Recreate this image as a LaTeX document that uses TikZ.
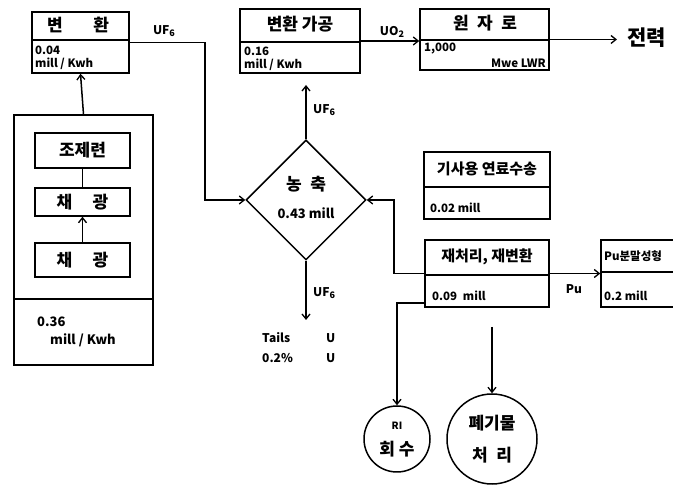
\documentclass[tikz,border=0pt]{standalone}
\usepackage{fontspec}
\setmainfont{Noto Sans CJK KR}
\usetikzlibrary{shapes.geometric,arrows.meta}
\tikzset{
  box/.style={draw,line width=1.5pt,inner sep=0pt,rectangle},
  ln/.style={line width=1.5pt},
  arr/.style={line width=1.5pt,-{Straight Barb[length=5pt,width=8pt,line width=1.3pt]}},
  ttl/.style={font=\fontsize{17}{17}\selectfont\bfseries,inner sep=0pt},
  sm/.style={font=\fontsize{11.5}{11.5}\selectfont\bfseries,inner sep=0pt},
  lbl/.style={font=\fontsize{12}{12}\selectfont\bfseries,inner sep=0pt},
}
\newcommand{\ufsix}{UF\raisebox{-0.3ex}{\fontsize{9}{9}\selectfont 6}}
\begin{document}
\begin{tikzpicture}[x=1pt,y=-1pt]
\useasboundingbox (0,0) rectangle (673,486);
% --- top row ---
\node[box,minimum width=97pt,minimum height=61pt] (b1) at (80.5,42.5) {};
\draw[ln] (32,40) -- (129,40);
\node[ttl] (b1t) at (78,25) {변\hspace{1.8em}환};
\node[sm,anchor=west] (b1a) at (35,50) {0.04};
\node[sm,anchor=west] (b1b) at (35,64) {mill / Kwh};

\node[box,minimum width=120pt,minimum height=64pt] (b2) at (300,41) {};
\draw[ln] (240,42) -- (360,42);
\node[ttl] (b2t) at (300,24) {변환 가공};
\node[sm,anchor=west] (b2a) at (244,51) {0.16};
\node[sm,anchor=west] (b2b) at (244,65) {mill / Kwh};

\node[box,minimum width=129pt,minimum height=61pt] (b3) at (484.5,39.5) {};
\draw[ln] (420,40) -- (549,40);
\node[ttl] (b3t) at (485,23) {원\enspace 자\enspace 로};
\node[sm,anchor=west] (b3a) at (424,49) {1,000};
\node[sm,anchor=east] (b3b) at (546,63) {Mwe LWR};

\node[font=\fontsize{21}{21}\selectfont\bfseries,inner sep=0pt,anchor=west] (pw) at (627,38) {전력};

\node[lbl] (l1) at (164,31) {\ufsix};
\node[lbl] (l2) at (392,32) {UO\raisebox{-0.3ex}{\fontsize{9}{9}\selectfont 2}};

% --- left tall box ---
\node[box,minimum width=139pt,minimum height=250pt] (tb) at (83.5,240) {};
\draw[ln] (14,299) -- (153,299);
\node[box,minimum width=95pt,minimum height=35pt,ttl] (m1) at (82.5,150.5) {조제련};
\node[box,minimum width=95pt,minimum height=28pt,ttl] (m2) at (82.5,202) {채\hspace{1.2em}광};
\node[box,minimum width=95pt,minimum height=34pt,ttl] (m3) at (82.5,260) {채\hspace{1.2em}광};
\node[font=\fontsize{13}{13}\selectfont\bfseries,inner sep=0pt,anchor=west] (t1) at (37,322) {0.36};
\node[font=\fontsize{13}{13}\selectfont\bfseries,inner sep=0pt,anchor=west] (t2) at (50,340) {mill / Kwh};

% --- diamond ---
\node[draw,diamond,line width=1.5pt,minimum width=120pt,minimum height=120pt,inner sep=0pt] (dia) at (306,200) {};
\node[ttl] (dt) at (306,184) {농\enspace 축};
\node[font=\fontsize{13}{13}\selectfont\bfseries,inner sep=0pt] (dv) at (306,213) {0.43 mill};
\node[lbl,anchor=west] (l3) at (313,110) {\ufsix};
\node[lbl,anchor=west] (l4) at (313,293) {\ufsix};
\node[lbl,anchor=west] (tl1) at (262,338) {Tails};
\node[lbl,anchor=west] (tl2) at (326,338) {U};
\node[lbl,anchor=west] (tl3) at (262,358) {0.2\%};
\node[lbl,anchor=west] (tl4) at (326,358) {U};

% --- right boxes ---
\node[box,minimum width=126pt,minimum height=67pt] (b4) at (487,185.5) {};
\draw[ln] (424,187) -- (550,187);
\node[font=\fontsize{15}{15}\selectfont\bfseries,inner sep=0pt] (b4t) at (487,169) {기사용 연료수송};
\node[sm,anchor=west] (b4a) at (430,208) {0.02 mill};

\node[box,minimum width=124pt,minimum height=67pt] (b5) at (487,273.5) {};
\draw[ln] (425,275) -- (549,275);
\node[font=\fontsize{15}{15}\selectfont\bfseries,inner sep=0pt] (b5t) at (487,257) {재처리, 재변환};
\node[sm,anchor=west] (b5a) at (432,296) {0.09\enspace mill};

\node[box,minimum width=110pt,minimum height=67pt] (b6) at (656,273.5) {};
\draw[ln] (601,272) -- (711,272);
\node[font=\fontsize{11.5}{11.5}\selectfont\bfseries,inner sep=0pt,anchor=west] (b6t) at (604,256) {Pu분말성형};
\node[sm,anchor=west] (b6a) at (604,296) {0.2 mill};
\node[lbl] (l5) at (574,289) {Pu};

% --- circles ---
\node[draw,circle,line width=1.5pt,minimum size=66pt,inner sep=0pt] (ri) at (397,439) {};
\node[font=\fontsize{10}{10}\selectfont\bfseries,inner sep=0pt] (rit) at (397,426) {RI};
\node[ttl] (rib) at (397,449) {회 수};
\node[draw,circle,line width=1.5pt,minimum size=90pt,inner sep=0pt] (wa) at (492,439) {};
\node[ttl] (wat) at (492,423) {폐기물};
\node[ttl] (wab) at (492,455) {처\enspace 리};

% --- coordinates ---
\coordinate (c1) at (205,120);
\coordinate (c2) at (394,240);
\coordinate (u1) at (306,85);
\coordinate (u2) at (306,320);
\coordinate (w0) at (492,327);
\coordinate (pe) at (617,37);

% --- connectors ---
\draw[arr] (tb.north) -- (b1.south);
\draw[ln] (m1.south) -- (m2.north);
\draw[arr] (m3.north) -- (m2.south);
\draw[arr] (b1.east) -| (c1) |- (dia.west);
\draw[arr] (dia.north) -- (u1);
\draw[arr] (dia.south) -- (u2);
\draw[arr] (b2.east) -- (b2.east -| b3.west);
\draw[arr] (b3.east) -- (b3.east -| pe);
\draw[arr] (b5.west) -| (c2) |- (dia.east);
\draw[arr] (b5.east) -- (b6.west);
\draw[arr] (b5.west |- 0,303) -| (ri.north);
\draw[arr] (w0) -- (wa.north);
\end{tikzpicture}
\end{document}
